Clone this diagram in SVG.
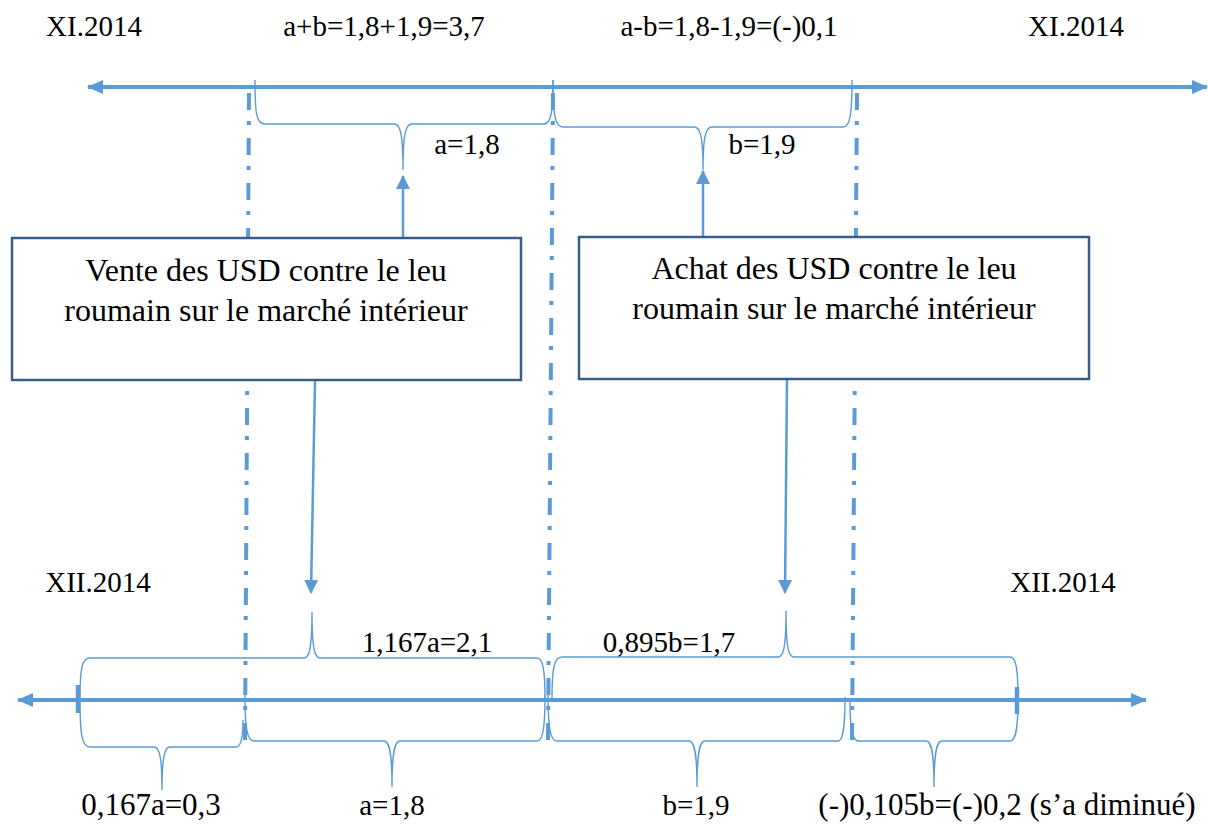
<svg xmlns="http://www.w3.org/2000/svg" width="1208" height="829" viewBox="0 0 1208 829">
<defs>
<marker id="axhead" viewBox="0 0 16 14" refX="15" refY="7" markerWidth="16" markerHeight="14" markerUnits="userSpaceOnUse" orient="auto-start-reverse">
<path d="M0,0 L16,7 L0,14 Z" fill="#5b9bd5"/>
</marker>
<marker id="head" viewBox="0 0 14 14" refX="13" refY="7" markerWidth="14" markerHeight="14" markerUnits="userSpaceOnUse" orient="auto">
<path d="M0,0 L14,7 L0,14 Z" fill="#5b9bd5"/>
</marker>
</defs>
<style>
.t{font-family:"Liberation Serif","Times New Roman",serif;font-size:29px;fill:#000;text-anchor:middle}
.bt{font-family:"Liberation Serif","Times New Roman",serif;font-size:32px;fill:#000;text-anchor:middle}
.big{font-size:31px}
.axis{stroke:#5b9bd5;stroke-width:4;fill:none}
.dd{stroke:#5b9bd5;stroke-width:4;fill:none;stroke-dasharray:17 11 4 13}
.br{stroke:#5b9bd5;stroke-width:1.4;fill:none}
.arr{stroke:#5b9bd5;stroke-width:2.5;fill:none}
.box{stroke:#385d8a;stroke-width:2.5;fill:#fff}
.tick{stroke:#5b9bd5;stroke-width:4.5}
</style>

<g id="guides">
<line class="dd" x1="249" y1="93" x2="245" y2="740"/>
<line class="dd" x1="553" y1="93" x2="548" y2="740"/>
<line class="dd" x1="857" y1="93" x2="852" y2="740"/>
</g>

<g id="axis-top">
<line class="axis" x1="1207" y1="87" x2="88" y2="87" marker-start="url(#axhead)" marker-end="url(#axhead)"/>
</g>
<g id="axis-bottom">
<line class="axis" x1="18" y1="700" x2="1146" y2="700" marker-start="url(#axhead)" marker-end="url(#axhead)"/>
<line class="tick" x1="78" y1="685" x2="78" y2="713"/>
<line class="tick" x1="1017" y1="687" x2="1017" y2="714"/>
</g>

<g id="braces-top">
<path class="br" d="M255,80 C255,112 256,124 265,124 L394,124 C400,124 403,132 403,170 C403,132 406,124 412,124 L544,124 C551,124 553,112 553,80"/>
<path class="br" d="M553,80 C553,115 555,127 563,127 L694,127 C700,127 703,135 703,170 C703,135 706,127 712,127 L843,127 C850,127 852,115 852,80"/>
</g>

<g id="braces-bottom">
<path class="br" d="M80,700 C80,668 82,658 90,658 L304,658 C309,658 312,650 312,612 C312,650 315,658 320,658 L537,658 C543,658 545,670 545,700"/>
<path class="br" d="M552,700 C552,668 554,657 562,657 L778,657 C783,657 786,650 786,611 C786,650 789,657 794,657 L1010,657 C1016,657 1018,668 1018,700"/>
<path class="br" d="M80,700 C80,735 82,747 90,747 L154,747 C159,747 162,755 162,790 C162,755 165,747 170,747 L236,747 C241,747 243,738 243,720"/>
<path class="br" d="M245,695 C245,728 247,741 254,741 L384,741 C389,741 392,750 392,787 C392,750 395,741 400,741 L537,741 C543,741 545,728 545,695"/>
<path class="br" d="M548,690 C548,728 550,741 557,741 L689,741 C694,741 697,750 697,787 C697,750 700,741 705,741 L838,741 C843,741 845,728 845,697"/>
<path class="br" d="M850,700 C850,730 852,741 859,741 L926,741 C931,741 934,750 934,787 C934,750 937,741 942,741 L1010,741 C1016,741 1018,728 1018,700"/>
</g>

<g id="connectors">
<line class="arr" x1="403" y1="238" x2="403" y2="176" marker-end="url(#head)"/>
<line class="arr" x1="703" y1="237" x2="703" y2="171" marker-end="url(#head)"/>
<line class="arr" x1="315" y1="381" x2="311" y2="593" marker-end="url(#head)"/>
<line class="arr" x1="787" y1="380" x2="785" y2="593" marker-end="url(#head)"/>
</g>

<g id="box-vente">
<rect class="box" x="12" y="238" width="509" height="142"/>
<text class="bt" x="266" y="281">Vente des USD contre le leu</text>
<text class="bt" x="266" y="321">roumain sur le marché intérieur</text>
</g>
<g id="box-achat">
<rect class="box" x="579" y="237" width="510" height="142"/>
<text class="bt" x="834" y="279">Achat des USD contre le leu</text>
<text class="bt" x="834" y="319">roumain sur le marché intérieur</text>
</g>

<g id="labels">
<text class="t" x="94" y="36">XI.2014</text>
<text class="t" x="384" y="36">a+b=1,8+1,9=3,7</text>
<text class="t" x="729" y="36">a-b=1,8-1,9=(-)0,1</text>
<text class="t" x="1076" y="36">XI.2014</text>
<text class="t" x="467" y="154">a=1,8</text>
<text class="t" x="762" y="154">b=1,9</text>
<text class="t" x="98" y="592">XII.2014</text>
<text class="t" x="1063" y="592">XII.2014</text>
<text class="t" x="427" y="652">1,167a=2,1</text>
<text class="t" x="669" y="652">0,895b=1,7</text>
<text class="t big" x="151" y="815">0,167a=0,3</text>
<text class="t" x="392" y="815">a=1,8</text>
<text class="t" x="696" y="815">b=1,9</text>
<text class="t big" x="1007" y="815">(-)0,105b=(-)0,2 (s’a diminué)</text>
</g>
</svg>
